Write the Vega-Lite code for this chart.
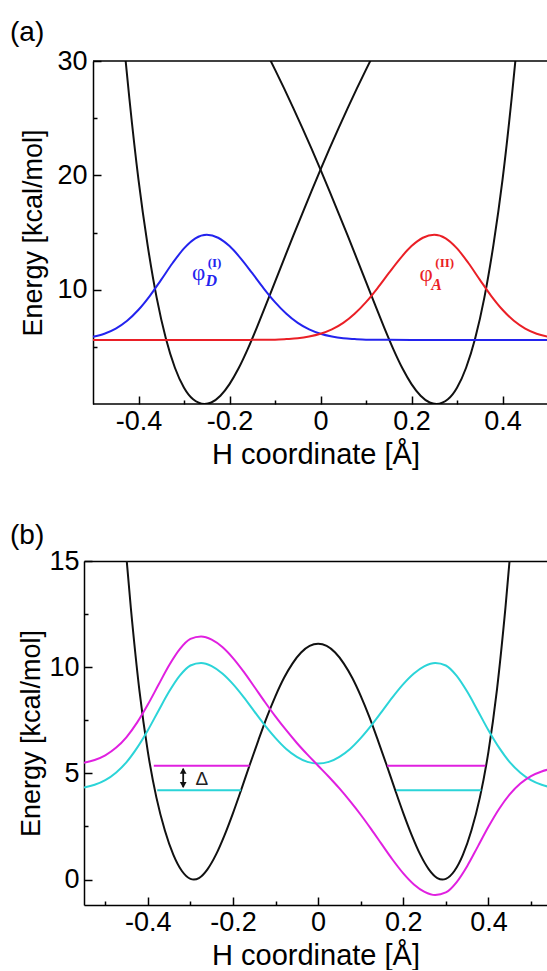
{
  "$schema": "https://vega.github.io/schema/vega-lite/v6.json",
  "padding": {"left": 10, "top": 19, "right": 0, "bottom": 0},
  "spacing": 53,
  "config": {
    "view": {"stroke": null},
    "font": "Liberation Sans",
    "axis": {
      "labelFont": "Liberation Sans", "titleFont": "Liberation Sans",
      "labelFontSize": 27, "titleFontSize": 29, "titleFontWeight": "normal",
      "labelColor": "black", "titleColor": "black", "domainColor": "black", "tickColor": "black",
      "domainWidth": 1.5, "tickWidth": 1.5, "grid": false, "labelOverlap": false, "labelFlush": false
    }
  },
  "datasets": {
    "a_border": [
      {"x1": -0.5, "x2": 0.4978, "E": 0},
      {"x1": -0.5, "x2": 0.4978, "E": 30}
    ],
    "a_lines": [
      {"x": -0.44, "E": 35.1, "s": "VL"}, {"x": -0.43, "E": 30.7, "s": "VL"}, {"x": -0.42, "E": 26.7, "s": "VL"},
      {"x": -0.40, "E": 19.6, "s": "VL"}, {"x": -0.38, "E": 13.9, "s": "VL"}, {"x": -0.36, "E": 9.28, "s": "VL"},
      {"x": -0.34, "E": 5.75, "s": "VL"}, {"x": -0.32, "E": 3.17, "s": "VL"}, {"x": -0.30, "E": 1.42, "s": "VL"},
      {"x": -0.28, "E": 0.41, "s": "VL"}, {"x": -0.255, "E": 0, "s": "VL"}, {"x": -0.24, "E": 0.13, "s": "VL"},
      {"x": -0.22, "E": 0.72, "s": "VL"}, {"x": -0.20, "E": 1.74, "s": "VL"}, {"x": -0.18, "E": 3.12, "s": "VL"},
      {"x": -0.16, "E": 4.80, "s": "VL"}, {"x": -0.14, "E": 6.68, "s": "VL"}, {"x": -0.12, "E": 8.66, "s": "VL"},
      {"x": -0.10, "E": 10.68, "s": "VL"}, {"x": -0.08, "E": 12.70, "s": "VL"}, {"x": -0.06, "E": 14.70, "s": "VL"},
      {"x": -0.04, "E": 16.66, "s": "VL"}, {"x": -0.02, "E": 18.6, "s": "VL"}, {"x": 0, "E": 20.5, "s": "VL"},
      {"x": 0.02, "E": 22.35, "s": "VL"}, {"x": 0.04, "E": 24.15, "s": "VL"}, {"x": 0.06, "E": 25.9, "s": "VL"},
      {"x": 0.08, "E": 27.6, "s": "VL"}, {"x": 0.10, "E": 29.25, "s": "VL"}, {"x": 0.12, "E": 30.85, "s": "VL"},
      {"x": 0.14, "E": 32.4, "s": "VL"},
      {"x": 0.44, "E": 35.1, "s": "VR"}, {"x": 0.43, "E": 30.7, "s": "VR"}, {"x": 0.42, "E": 26.7, "s": "VR"},
      {"x": 0.40, "E": 19.6, "s": "VR"}, {"x": 0.38, "E": 13.9, "s": "VR"}, {"x": 0.36, "E": 9.28, "s": "VR"},
      {"x": 0.34, "E": 5.75, "s": "VR"}, {"x": 0.32, "E": 3.17, "s": "VR"}, {"x": 0.30, "E": 1.42, "s": "VR"},
      {"x": 0.28, "E": 0.41, "s": "VR"}, {"x": 0.255, "E": 0, "s": "VR"}, {"x": 0.24, "E": 0.13, "s": "VR"},
      {"x": 0.22, "E": 0.72, "s": "VR"}, {"x": 0.20, "E": 1.74, "s": "VR"}, {"x": 0.18, "E": 3.12, "s": "VR"},
      {"x": 0.16, "E": 4.80, "s": "VR"}, {"x": 0.14, "E": 6.68, "s": "VR"}, {"x": 0.12, "E": 8.66, "s": "VR"},
      {"x": 0.10, "E": 10.68, "s": "VR"}, {"x": 0.08, "E": 12.70, "s": "VR"}, {"x": 0.06, "E": 14.70, "s": "VR"},
      {"x": 0.04, "E": 16.66, "s": "VR"}, {"x": 0.02, "E": 18.6, "s": "VR"}, {"x": 0, "E": 20.5, "s": "VR"},
      {"x": -0.02, "E": 22.35, "s": "VR"}, {"x": -0.04, "E": 24.15, "s": "VR"}, {"x": -0.06, "E": 25.9, "s": "VR"},
      {"x": -0.08, "E": 27.6, "s": "VR"}, {"x": -0.10, "E": 29.25, "s": "VR"}, {"x": -0.12, "E": 30.85, "s": "VR"},
      {"x": -0.14, "E": 32.4, "s": "VR"}
    ],
    "a_wave": [
      {"x": -0.5, "E": 5.89, "s": "phiD"}, {"x": -0.475, "E": 6.15, "s": "phiD"}, {"x": -0.45, "E": 6.60, "s": "phiD"},
      {"x": -0.425, "E": 7.28, "s": "phiD"}, {"x": -0.4, "E": 8.24, "s": "phiD"}, {"x": -0.375, "E": 9.46, "s": "phiD"},
      {"x": -0.35, "E": 10.88, "s": "phiD"}, {"x": -0.325, "E": 12.33, "s": "phiD"}, {"x": -0.3, "E": 13.61, "s": "phiD"},
      {"x": -0.275, "E": 14.49, "s": "phiD"}, {"x": -0.25, "E": 14.8, "s": "phiD"}, {"x": -0.225, "E": 14.54, "s": "phiD"},
      {"x": -0.2, "E": 13.81, "s": "phiD"}, {"x": -0.175, "E": 12.72, "s": "phiD"}, {"x": -0.15, "E": 11.44, "s": "phiD"},
      {"x": -0.125, "E": 10.12, "s": "phiD"}, {"x": -0.1, "E": 8.91, "s": "phiD"}, {"x": -0.075, "E": 7.89, "s": "phiD"},
      {"x": -0.05, "E": 7.09, "s": "phiD"}, {"x": -0.025, "E": 6.52, "s": "phiD"}, {"x": 0, "E": 6.14, "s": "phiD"},
      {"x": 0.025, "E": 5.90, "s": "phiD"}, {"x": 0.05, "E": 5.75, "s": "phiD"}, {"x": 0.075, "E": 5.68, "s": "phiD"},
      {"x": 0.1, "E": 5.63, "s": "phiD"}, {"x": 0.125, "E": 5.62, "s": "phiD"}, {"x": 0.15, "E": 5.61, "s": "phiD"},
      {"x": 0.2, "E": 5.6, "s": "phiD"}, {"x": 0.3, "E": 5.6, "s": "phiD"}, {"x": 0.4, "E": 5.6, "s": "phiD"},
      {"x": 0.52, "E": 5.6, "s": "phiD"},
      {"x": 0.5, "E": 5.89, "s": "phiA"}, {"x": 0.475, "E": 6.15, "s": "phiA"}, {"x": 0.45, "E": 6.60, "s": "phiA"},
      {"x": 0.425, "E": 7.28, "s": "phiA"}, {"x": 0.4, "E": 8.24, "s": "phiA"}, {"x": 0.375, "E": 9.46, "s": "phiA"},
      {"x": 0.35, "E": 10.88, "s": "phiA"}, {"x": 0.325, "E": 12.33, "s": "phiA"}, {"x": 0.3, "E": 13.61, "s": "phiA"},
      {"x": 0.275, "E": 14.49, "s": "phiA"}, {"x": 0.25, "E": 14.8, "s": "phiA"}, {"x": 0.225, "E": 14.54, "s": "phiA"},
      {"x": 0.2, "E": 13.81, "s": "phiA"}, {"x": 0.175, "E": 12.72, "s": "phiA"}, {"x": 0.15, "E": 11.44, "s": "phiA"},
      {"x": 0.125, "E": 10.12, "s": "phiA"}, {"x": 0.1, "E": 8.91, "s": "phiA"}, {"x": 0.075, "E": 7.89, "s": "phiA"},
      {"x": 0.05, "E": 7.09, "s": "phiA"}, {"x": 0.025, "E": 6.52, "s": "phiA"}, {"x": 0, "E": 6.14, "s": "phiA"},
      {"x": -0.025, "E": 5.90, "s": "phiA"}, {"x": -0.05, "E": 5.75, "s": "phiA"}, {"x": -0.075, "E": 5.68, "s": "phiA"},
      {"x": -0.1, "E": 5.63, "s": "phiA"}, {"x": -0.125, "E": 5.62, "s": "phiA"}, {"x": -0.15, "E": 5.61, "s": "phiA"},
      {"x": -0.2, "E": 5.6, "s": "phiA"}, {"x": -0.3, "E": 5.6, "s": "phiA"}, {"x": -0.4, "E": 5.6, "s": "phiA"},
      {"x": -0.5, "E": 5.6, "s": "phiA"}
    ],
    "a_phi": [
      {"x": -0.268, "E": 11.5, "t": "φ", "s": "phiD"},
      {"x": 0.232, "E": 11.33, "t": "φ", "s": "phiA"}
    ],
    "a_sup": [
      {"x": -0.233, "E": 12.34, "t": "(I)", "s": "phiD"},
      {"x": 0.273, "E": 12.34, "t": "(II)", "s": "phiA"}
    ],
    "a_sub": [
      {"x": -0.24, "E": 10.76, "t": "D", "s": "phiD"},
      {"x": 0.255, "E": 10.41, "t": "A", "s": "phiA"}
    ],
    "b_black": [
      {"x": -0.50, "E": 28.1}, {"x": -0.48, "E": 22.3}, {"x": -0.46, "E": 17.4}, {"x": -0.44, "E": 12.8},
      {"x": -0.42, "E": 8.93}, {"x": -0.40, "E": 6.01}, {"x": -0.38, "E": 3.87}, {"x": -0.36, "E": 2.31},
      {"x": -0.34, "E": 1.16}, {"x": -0.32, "E": 0.40}, {"x": -0.30, "E": 0.03}, {"x": -0.292, "E": 0},
      {"x": -0.28, "E": 0.07}, {"x": -0.26, "E": 0.48}, {"x": -0.24, "E": 1.17}, {"x": -0.22, "E": 2.08},
      {"x": -0.20, "E": 3.13}, {"x": -0.18, "E": 4.27}, {"x": -0.16, "E": 5.44}, {"x": -0.14, "E": 6.58},
      {"x": -0.12, "E": 7.67}, {"x": -0.10, "E": 8.65}, {"x": -0.08, "E": 9.50}, {"x": -0.06, "E": 10.18},
      {"x": -0.04, "E": 10.69}, {"x": -0.02, "E": 11.0}, {"x": 0, "E": 11.1},
      {"x": 0.02, "E": 11.0}, {"x": 0.04, "E": 10.69}, {"x": 0.06, "E": 10.18}, {"x": 0.08, "E": 9.50},
      {"x": 0.10, "E": 8.65}, {"x": 0.12, "E": 7.67}, {"x": 0.14, "E": 6.58}, {"x": 0.16, "E": 5.44},
      {"x": 0.18, "E": 4.27}, {"x": 0.20, "E": 3.13}, {"x": 0.22, "E": 2.08}, {"x": 0.24, "E": 1.17},
      {"x": 0.26, "E": 0.48}, {"x": 0.28, "E": 0.07}, {"x": 0.292, "E": 0}, {"x": 0.30, "E": 0.03},
      {"x": 0.32, "E": 0.40}, {"x": 0.34, "E": 1.16}, {"x": 0.36, "E": 2.31}, {"x": 0.38, "E": 3.87},
      {"x": 0.40, "E": 6.01}, {"x": 0.42, "E": 8.93}, {"x": 0.44, "E": 12.8}, {"x": 0.46, "E": 17.4},
      {"x": 0.48, "E": 22.3}, {"x": 0.50, "E": 28.1}
    ],
    "b_wave": [
      {"x": -0.55, "E": 4.33, "s": "psi0"}, {"x": -0.525, "E": 4.46, "s": "psi0"}, {"x": -0.5, "E": 4.68, "s": "psi0"},
      {"x": -0.475, "E": 5.03, "s": "psi0"}, {"x": -0.45, "E": 5.53, "s": "psi0"}, {"x": -0.425, "E": 6.21, "s": "psi0"},
      {"x": -0.4, "E": 7.03, "s": "psi0"}, {"x": -0.375, "E": 7.95, "s": "psi0"}, {"x": -0.35, "E": 8.85, "s": "psi0"},
      {"x": -0.325, "E": 9.60, "s": "psi0"}, {"x": -0.3, "E": 10.08, "s": "psi0"}, {"x": -0.275, "E": 10.20, "s": "psi0"},
      {"x": -0.25, "E": 10.05, "s": "psi0"}, {"x": -0.225, "E": 9.70, "s": "psi0"}, {"x": -0.2, "E": 9.20, "s": "psi0"},
      {"x": -0.175, "E": 8.59, "s": "psi0"}, {"x": -0.15, "E": 7.92, "s": "psi0"}, {"x": -0.125, "E": 7.26, "s": "psi0"},
      {"x": -0.1, "E": 6.66, "s": "psi0"}, {"x": -0.075, "E": 6.15, "s": "psi0"}, {"x": -0.05, "E": 5.78, "s": "psi0"},
      {"x": -0.025, "E": 5.54, "s": "psi0"}, {"x": 0, "E": 5.46, "s": "psi0"},
      {"x": 0.025, "E": 5.54, "s": "psi0"}, {"x": 0.05, "E": 5.78, "s": "psi0"}, {"x": 0.075, "E": 6.15, "s": "psi0"},
      {"x": 0.1, "E": 6.66, "s": "psi0"}, {"x": 0.125, "E": 7.26, "s": "psi0"}, {"x": 0.15, "E": 7.92, "s": "psi0"},
      {"x": 0.175, "E": 8.59, "s": "psi0"}, {"x": 0.2, "E": 9.20, "s": "psi0"}, {"x": 0.225, "E": 9.70, "s": "psi0"},
      {"x": 0.25, "E": 10.05, "s": "psi0"}, {"x": 0.275, "E": 10.20, "s": "psi0"}, {"x": 0.3, "E": 10.08, "s": "psi0"},
      {"x": 0.325, "E": 9.60, "s": "psi0"}, {"x": 0.35, "E": 8.85, "s": "psi0"}, {"x": 0.375, "E": 7.95, "s": "psi0"},
      {"x": 0.4, "E": 7.03, "s": "psi0"}, {"x": 0.425, "E": 6.21, "s": "psi0"}, {"x": 0.45, "E": 5.53, "s": "psi0"},
      {"x": 0.475, "E": 5.03, "s": "psi0"}, {"x": 0.5, "E": 4.68, "s": "psi0"}, {"x": 0.525, "E": 4.46, "s": "psi0"},
      {"x": 0.55, "E": 4.33, "s": "psi0"},
      {"x": -0.55, "E": 5.50, "s": "psi1"}, {"x": -0.525, "E": 5.63, "s": "psi1"}, {"x": -0.5, "E": 5.85, "s": "psi1"},
      {"x": -0.475, "E": 6.20, "s": "psi1"}, {"x": -0.45, "E": 6.71, "s": "psi1"}, {"x": -0.425, "E": 7.40, "s": "psi1"},
      {"x": -0.4, "E": 8.24, "s": "psi1"}, {"x": -0.375, "E": 9.17, "s": "psi1"}, {"x": -0.35, "E": 10.09, "s": "psi1"},
      {"x": -0.325, "E": 10.85, "s": "psi1"}, {"x": -0.3, "E": 11.33, "s": "psi1"}, {"x": -0.275, "E": 11.45, "s": "psi1"},
      {"x": -0.25, "E": 11.30, "s": "psi1"}, {"x": -0.225, "E": 10.95, "s": "psi1"}, {"x": -0.2, "E": 10.43, "s": "psi1"},
      {"x": -0.175, "E": 9.79, "s": "psi1"}, {"x": -0.15, "E": 9.08, "s": "psi1"}, {"x": -0.125, "E": 8.36, "s": "psi1"},
      {"x": -0.1, "E": 7.67, "s": "psi1"}, {"x": -0.075, "E": 7.03, "s": "psi1"}, {"x": -0.05, "E": 6.43, "s": "psi1"},
      {"x": -0.025, "E": 5.88, "s": "psi1"}, {"x": 0, "E": 5.36, "s": "psi1"},
      {"x": 0.025, "E": 4.84, "s": "psi1"}, {"x": 0.05, "E": 4.29, "s": "psi1"}, {"x": 0.075, "E": 3.69, "s": "psi1"},
      {"x": 0.1, "E": 3.05, "s": "psi1"}, {"x": 0.125, "E": 2.36, "s": "psi1"}, {"x": 0.15, "E": 1.64, "s": "psi1"},
      {"x": 0.175, "E": 0.93, "s": "psi1"}, {"x": 0.2, "E": 0.29, "s": "psi1"}, {"x": 0.225, "E": -0.23, "s": "psi1"},
      {"x": 0.25, "E": -0.58, "s": "psi1"}, {"x": 0.275, "E": -0.73, "s": "psi1"}, {"x": 0.3, "E": -0.61, "s": "psi1"},
      {"x": 0.325, "E": -0.13, "s": "psi1"}, {"x": 0.35, "E": 0.63, "s": "psi1"}, {"x": 0.375, "E": 1.55, "s": "psi1"},
      {"x": 0.4, "E": 2.48, "s": "psi1"}, {"x": 0.425, "E": 3.32, "s": "psi1"}, {"x": 0.45, "E": 4.01, "s": "psi1"},
      {"x": 0.475, "E": 4.52, "s": "psi1"}, {"x": 0.5, "E": 4.87, "s": "psi1"}, {"x": 0.525, "E": 5.09, "s": "psi1"},
      {"x": 0.55, "E": 5.22, "s": "psi1"}
    ],
    "b_levels": [
      {"x1": -0.386, "x2": -0.161, "E": 5.36, "s": "psi1"},
      {"x1": 0.162, "x2": 0.393, "E": 5.36, "s": "psi1"},
      {"x1": -0.378, "x2": -0.181, "E": 4.2, "s": "psi0"},
      {"x1": 0.183, "x2": 0.383, "E": 4.2, "s": "psi0"}
    ],
    "b_arrow": [{"x": -0.317, "E1": 4.35, "E2": 5.22}],
    "b_heads": [
      {"x": -0.317, "E": 5.12, "end": "top"},
      {"x": -0.317, "E": 4.45, "end": "bottom"}
    ],
    "b_delta": [{"x": -0.273, "E": 4.75, "t": "Δ"}]
  },
  "vconcat": [
    {
      "width": 463,
      "height": 343,
      "title": {"text": "(a)", "anchor": "start", "frame": "group", "dx": -74, "offset": 0, "fontSize": 28, "fontWeight": "normal", "font": "Liberation Sans", "color": "black"},
      "resolve": {"axis": {"x": "independent", "y": "independent"}},
      "layer": [
        {
          "data": {"name": "a_lines"},
          "mark": {"type": "line", "strokeWidth": 2, "clip": true, "interpolate": "monotone"},
          "encoding": {
            "x": {"field": "x", "type": "quantitative", "scale": {"domain": [-0.5198, 0.4978], "nice": false, "zero": false},
              "axis": {"orient": "bottom", "values": [-0.4, -0.2, 0, 0.2, 0.4], "tickSize": -8, "labelPadding": 12, "titlePadding": 6, "domain": false, "title": "H coordinate [Å]",
                "labelExpr": "datum.value === 0 ? '0' : (datum.value < 0 ? '-' + format(-datum.value, '.1f') : format(datum.value, '.1f'))"}},
            "y": {"field": "E", "type": "quantitative", "scale": {"domain": [0, 30], "nice": false, "zero": false},
              "axis": {"orient": "left", "offset": -9, "values": [10, 20, 30], "tickSize": -8, "labelPadding": 14, "titlePadding": 9, "titleFontSize": 27, "title": "Energy [kcal/mol]"}},
            "color": {"field": "s", "type": "nominal", "legend": null,
              "scale": {"domain": ["VL", "VR", "phiD", "phiA", "W", "psi0", "psi1"], "range": ["#111111", "#111111", "#2323ee", "#ea1f26", "#111111", "#2bd4d8", "#e020e0"]}}
          }
        },
        {
          "data": {"name": "a_wave"},
          "mark": {"type": "line", "strokeWidth": 2, "clip": true, "interpolate": "monotone"},
          "encoding": {
            "x": {"field": "x", "type": "quantitative", "scale": {"domain": [-0.5198, 0.4978], "nice": false, "zero": false},
              "axis": {"orient": "bottom", "values": [-0.3, -0.1, 0.1, 0.3], "tickSize": -4, "labels": false, "domain": false, "title": null}},
            "y": {"field": "E", "type": "quantitative", "scale": {"domain": [0, 30], "nice": false, "zero": false},
              "axis": {"orient": "left", "offset": -9, "values": [5, 15, 25], "tickSize": -4, "labels": false, "domain": false, "title": null}},
            "color": {"field": "s", "type": "nominal", "legend": null,
              "scale": {"domain": ["VL", "VR", "phiD", "phiA", "W", "psi0", "psi1"], "range": ["#111111", "#111111", "#2323ee", "#ea1f26", "#111111", "#2bd4d8", "#e020e0"]}}
          }
        },
        {
          "data": {"name": "a_border"},
          "mark": {"type": "rule", "strokeWidth": 1.5, "color": "black"},
          "encoding": {
            "x": {"field": "x1", "type": "quantitative", "scale": {"domain": [-0.5198, 0.4978], "nice": false, "zero": false}, "axis": null},
            "x2": {"field": "x2"},
            "y": {"field": "E", "type": "quantitative", "scale": {"domain": [0, 30], "nice": false, "zero": false}, "axis": null}
          }
        },
        {
          "data": {"name": "a_phi"},
          "mark": {"type": "text", "font": "Liberation Serif", "fontSize": 23, "align": "center", "baseline": "middle"},
          "encoding": {
            "x": {"field": "x", "type": "quantitative", "scale": {"domain": [-0.5198, 0.4978], "nice": false, "zero": false}, "axis": null},
            "y": {"field": "E", "type": "quantitative", "scale": {"domain": [0, 30], "nice": false, "zero": false}, "axis": null},
            "text": {"field": "t"},
            "color": {"field": "s", "type": "nominal", "legend": null,
              "scale": {"domain": ["VL", "VR", "phiD", "phiA", "W", "psi0", "psi1"], "range": ["#111111", "#111111", "#2323ee", "#ea1f26", "#111111", "#2bd4d8", "#e020e0"]}}
          }
        },
        {
          "data": {"name": "a_sup"},
          "mark": {"type": "text", "font": "Liberation Serif", "fontSize": 13, "fontWeight": "bold", "align": "center", "baseline": "middle"},
          "encoding": {
            "x": {"field": "x", "type": "quantitative", "scale": {"domain": [-0.5198, 0.4978], "nice": false, "zero": false}, "axis": null},
            "y": {"field": "E", "type": "quantitative", "scale": {"domain": [0, 30], "nice": false, "zero": false}, "axis": null},
            "text": {"field": "t"},
            "color": {"field": "s", "type": "nominal", "legend": null,
              "scale": {"domain": ["VL", "VR", "phiD", "phiA", "W", "psi0", "psi1"], "range": ["#111111", "#111111", "#2323ee", "#ea1f26", "#111111", "#2bd4d8", "#e020e0"]}}
          }
        },
        {
          "data": {"name": "a_sub"},
          "mark": {"type": "text", "font": "Liberation Serif", "fontSize": 16, "fontWeight": "bold", "fontStyle": "italic", "align": "center", "baseline": "middle"},
          "encoding": {
            "x": {"field": "x", "type": "quantitative", "scale": {"domain": [-0.5198, 0.4978], "nice": false, "zero": false}, "axis": null},
            "y": {"field": "E", "type": "quantitative", "scale": {"domain": [0, 30], "nice": false, "zero": false}, "axis": null},
            "text": {"field": "t"},
            "color": {"field": "s", "type": "nominal", "legend": null,
              "scale": {"domain": ["VL", "VR", "phiD", "phiA", "W", "psi0", "psi1"], "range": ["#111111", "#111111", "#2323ee", "#ea1f26", "#111111", "#2bd4d8", "#e020e0"]}}
          }
        }
      ]
    },
    {
      "width": 463,
      "height": 344,
      "title": {"text": "(b)", "anchor": "start", "frame": "group", "dx": -74, "offset": -3, "fontSize": 28, "fontWeight": "normal", "font": "Liberation Sans", "color": "black"},
      "resolve": {"axis": {"x": "independent", "y": "independent"}},
      "layer": [
        {
          "data": {"name": "b_black"},
          "mark": {"type": "line", "strokeWidth": 2, "clip": true, "interpolate": "monotone", "color": "#111111"},
          "encoding": {
            "x": {"field": "x", "type": "quantitative", "scale": {"domain": [-0.55, 0.5376], "nice": false, "zero": false},
              "axis": {"orient": "bottom", "values": [-0.4, -0.2, 0, 0.2, 0.4], "tickSize": -8, "labelPadding": 12, "titlePadding": 6, "title": "H coordinate [Å]",
                "labelExpr": "datum.value === 0 ? '0' : (datum.value < 0 ? '-' + format(-datum.value, '.1f') : format(datum.value, '.1f'))"}},
            "y": {"field": "E", "type": "quantitative", "scale": {"domain": [-1.2, 15], "nice": false, "zero": false},
              "axis": {"orient": "left", "values": [0, 5, 10, 15], "tickSize": -8, "labelPadding": 13, "titlePadding": 3, "titleFontSize": 27, "title": "Energy [kcal/mol]"}}
          }
        },
        {
          "data": {"name": "b_wave"},
          "mark": {"type": "line", "strokeWidth": 2, "clip": true, "interpolate": "monotone"},
          "encoding": {
            "x": {"field": "x", "type": "quantitative", "scale": {"domain": [-0.55, 0.5376], "nice": false, "zero": false},
              "axis": {"orient": "bottom", "values": [-0.5, -0.3, -0.1, 0.1, 0.3, 0.5], "tickSize": -4, "labels": false, "domain": false, "title": null}},
            "y": {"field": "E", "type": "quantitative", "scale": {"domain": [-1.2, 15], "nice": false, "zero": false},
              "axis": {"orient": "left", "values": [2.5, 7.5, 12.5], "tickSize": -4, "labels": false, "domain": false, "title": null}},
            "color": {"field": "s", "type": "nominal", "legend": null,
              "scale": {"domain": ["VL", "VR", "phiD", "phiA", "W", "psi0", "psi1"], "range": ["#111111", "#111111", "#2323ee", "#ea1f26", "#111111", "#2bd4d8", "#e020e0"]}}
          }
        },
        {
          "data": {"name": "b_levels"},
          "mark": {"type": "rule", "strokeWidth": 2},
          "encoding": {
            "x": {"field": "x1", "type": "quantitative", "scale": {"domain": [-0.55, 0.5376], "nice": false, "zero": false},
              "axis": {"orient": "top", "ticks": false, "labels": false, "domain": true, "title": null}},
            "x2": {"field": "x2"},
            "y": {"field": "E", "type": "quantitative", "scale": {"domain": [-1.2, 15], "nice": false, "zero": false}, "axis": null},
            "color": {"field": "s", "type": "nominal", "legend": null,
              "scale": {"domain": ["VL", "VR", "phiD", "phiA", "W", "psi0", "psi1"], "range": ["#111111", "#111111", "#2323ee", "#ea1f26", "#111111", "#2bd4d8", "#e020e0"]}}
          }
        },
        {
          "data": {"name": "b_arrow"},
          "mark": {"type": "rule", "strokeWidth": 1.8, "color": "#111111"},
          "encoding": {
            "x": {"field": "x", "type": "quantitative", "scale": {"domain": [-0.55, 0.5376], "nice": false, "zero": false}, "axis": null},
            "y": {"field": "E1", "type": "quantitative", "scale": {"domain": [-1.2, 15], "nice": false, "zero": false}, "axis": null},
            "y2": {"field": "E2"}
          }
        },
        {
          "data": {"name": "b_heads"},
          "mark": {"type": "point", "filled": true, "size": 45, "color": "#111111", "opacity": 1},
          "encoding": {
            "x": {"field": "x", "type": "quantitative", "scale": {"domain": [-0.55, 0.5376], "nice": false, "zero": false}, "axis": null},
            "y": {"field": "E", "type": "quantitative", "scale": {"domain": [-1.2, 15], "nice": false, "zero": false}, "axis": null},
            "shape": {"field": "end", "type": "nominal", "legend": null, "scale": {"domain": ["top", "bottom"], "range": ["triangle-up", "triangle-down"]}}
          }
        },
        {
          "data": {"name": "b_delta"},
          "mark": {"type": "text", "font": "Liberation Sans", "fontSize": 19, "align": "center", "baseline": "middle", "color": "#222222"},
          "encoding": {
            "x": {"field": "x", "type": "quantitative", "scale": {"domain": [-0.55, 0.5376], "nice": false, "zero": false}, "axis": null},
            "y": {"field": "E", "type": "quantitative", "scale": {"domain": [-1.2, 15], "nice": false, "zero": false}, "axis": null},
            "text": {"field": "t"}
          }
        }
      ]
    }
  ]
}
